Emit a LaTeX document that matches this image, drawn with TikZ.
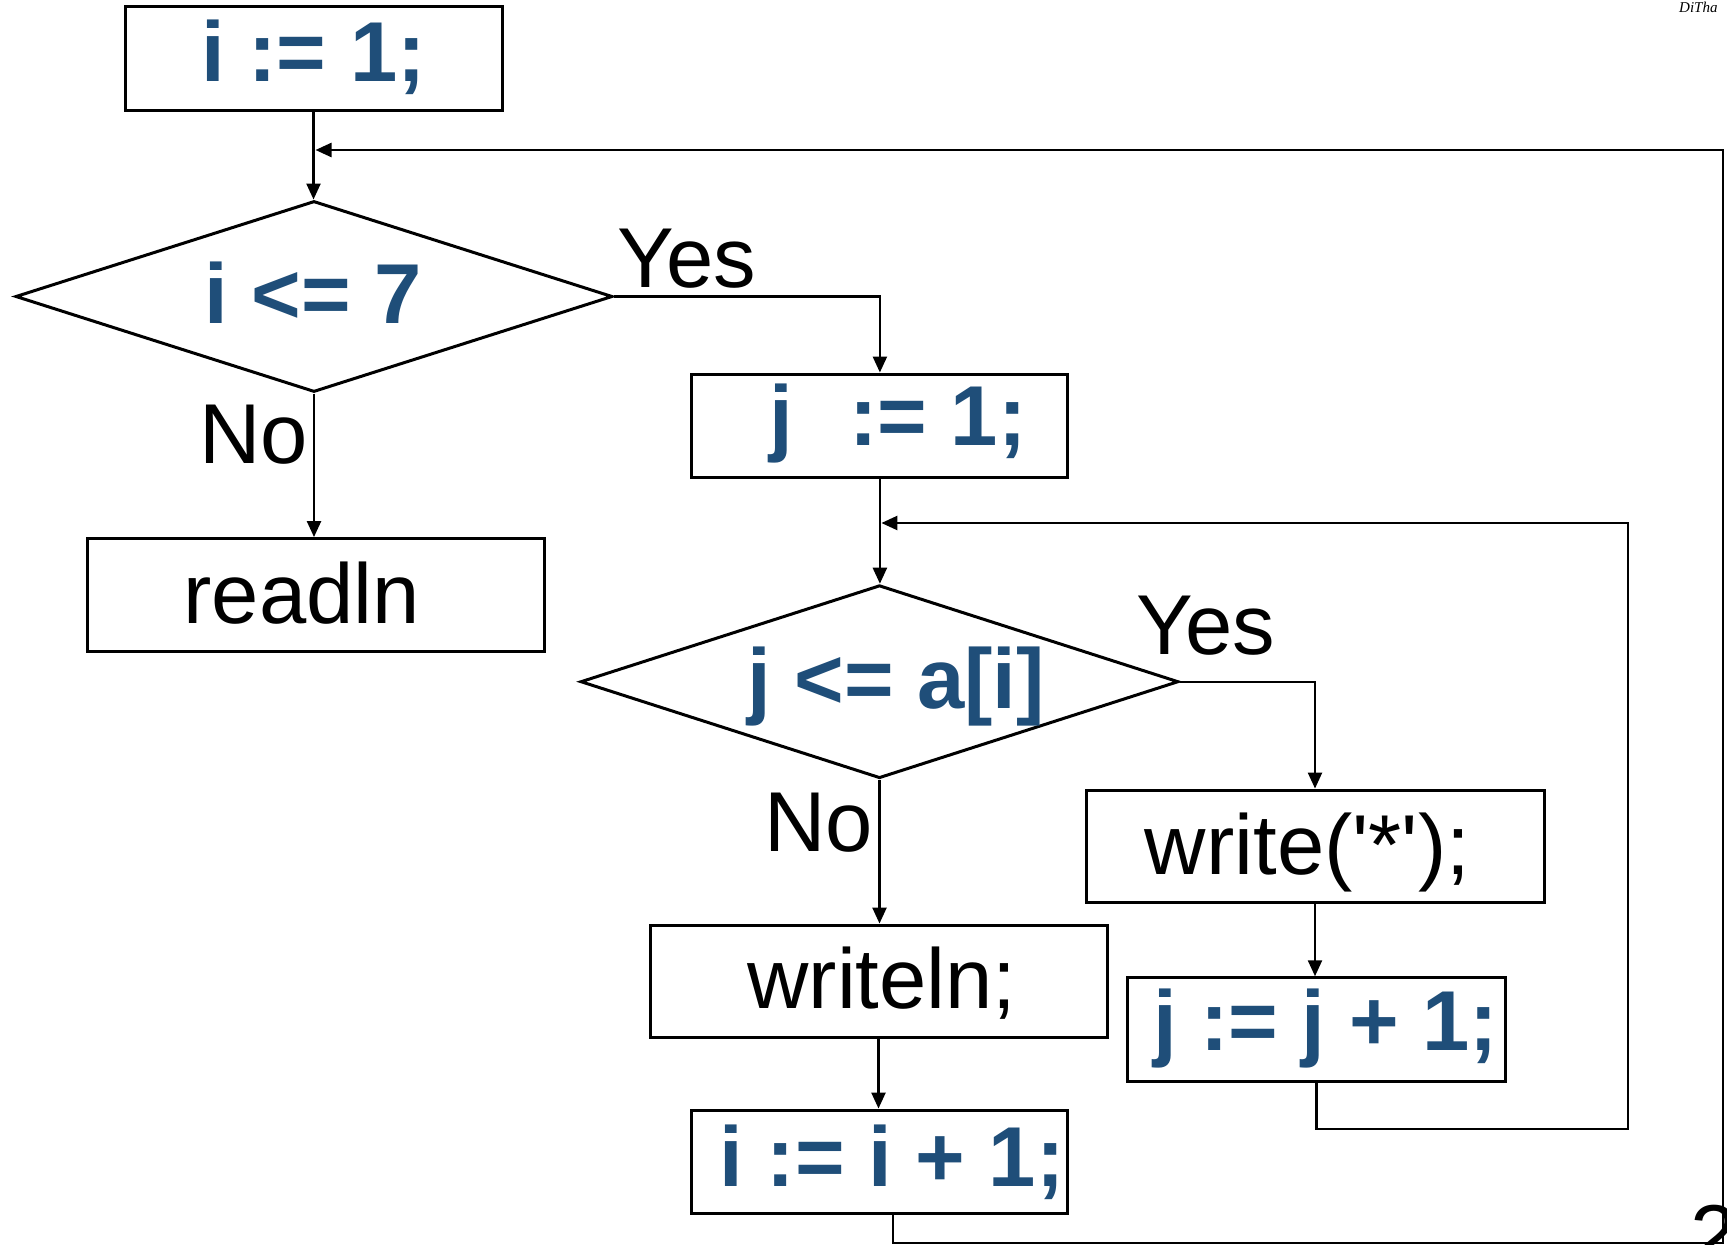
\documentclass[tikz,border=0pt]{standalone}
\usepackage{fontspec}
\setmainfont{Liberation Sans}
\newfontfamily\logofont{Liberation Serif}
\usetikzlibrary{shapes.geometric,arrows.meta,calc}
\definecolor{codeblue}{RGB}{31,78,121}
\newcommand{\cdfont}{\fontsize{85pt}{100pt}\selectfont\bfseries}
\newcommand{\plfont}{\fontsize{85pt}{100pt}\selectfont}
\begin{document}
\begin{tikzpicture}[x=1pt,y=-1pt,
  box/.style={draw, line width=3pt, inner sep=0pt, rectangle},
  dec/.style={draw, diamond, line width=3pt, inner sep=0pt},
  code/.style={font=\cdfont, text=codeblue, inner sep=0pt, anchor=base},
  plain/.style={font=\plfont, text=black, inner sep=0pt, anchor=base},
  lbl/.style={font=\plfont, text=black, inner sep=0pt, anchor=base west},
  conn/.style={line width=2.4pt},
  arr/.style={conn, -{Triangle[length=16pt,width=14pt]}}]
\useasboundingbox (0,0) rectangle (1727,1245);
\clip (0,0) rectangle (1727,1245);
\fill[white] (0,0) rectangle (1727,1245);

% shapes
\node[box, minimum width=377pt, minimum height=104pt] (b1) at (313.5,58) {};
\node[dec, minimum width=597pt, minimum height=191pt] (d1) at (314,296.5) {};
\node[box, minimum width=457pt, minimum height=112.5pt] (rd) at (315.5,594.8) {};
\node[box, minimum width=376pt, minimum height=103pt] (j1) at (879.9,425.5) {};
\node[dec, minimum width=598pt, minimum height=193pt] (d2) at (879.5,681.7) {};
\node[box, minimum width=458pt, minimum height=112.7pt] (wr) at (1315,846.4) {};
\node[box, minimum width=457pt, minimum height=112.5pt] (wl) at (878.5,981.3) {};
\node[box, minimum width=378.4pt, minimum height=103.3pt] (jj) at (1316.5,1029.4) {};
\node[box, minimum width=376pt, minimum height=103.3pt] (ii) at (879.7,1161.7) {};

% texts
\node[code] (t1) at (313.5,81) {i := 1;};
\node[code] (t2) at (313,323) {i <= 7};
\node[lbl] (yes1) at (617,287) {Yes};
\node[lbl] (no1) at (199,463) {No};
\node[plain] (t3) at (301.6,623) {readln};
\node[code] (t4) at (898,445) {j\ \ \hspace{9pt}:= 1;};
\node[code] (t5) at (896,708) {j <= a[i]};
\node[lbl] (yes2) at (1136,654) {Yes};
\node[lbl] (no2) at (764,851) {No};
\node[plain] (t6) at (1307.5,874) {write(\textquotesingle*\textquotesingle);};
\node[plain] (t7) at (882,1008) {writeln;};
\node[code] (t8) at (1325.5,1050.7) {j := j + 1;};
\node[code] (t9) at (892,1186) {i := i + 1;};
\node[lbl] (pg) at (1690,1264) {2};
\node[font=\logofont\fontsize{15pt}{16pt}\selectfont\itshape, inner sep=0pt, anchor=north west] (logo) at (1679,2) {DiTha};

% connectors
\draw[arr] (b1.south) -- (b1.south |- d1.north);
\draw[arr] (d1.east) -| (j1.north);
\draw[arr] (d1.south) -- (d1.south |- rd.north);
\draw[arr] (j1.south) -- (j1.south |- d2.north);
\draw[arr] (d2.east) -| (wr.north);
\draw[arr] (d2.south) -- (d2.south |- wl.north);
\draw[arr] (wl.south) -- (wl.south |- ii.north);
\draw[arr] (wr.south) -- (wr.south |- jj.north);

% inner loop
\coordinate (l2a) at (1628,1129);
\coordinate (l2b) at (1628,523);
\draw[arr] (jj.south) |- (l2a) -- (l2b) -- ([xshift=1.5pt]j1.south |- l2b);

% outer loop
\coordinate (l1s) at ([xshift=13.5pt]ii.south);
\coordinate (l1a) at (1723,1243);
\coordinate (l1b) at (1723,150);
\draw[arr] (l1s) |- (l1a) -- (l1b) -- ([xshift=2pt]b1.south |- l1b);
\end{tikzpicture}
\end{document}
